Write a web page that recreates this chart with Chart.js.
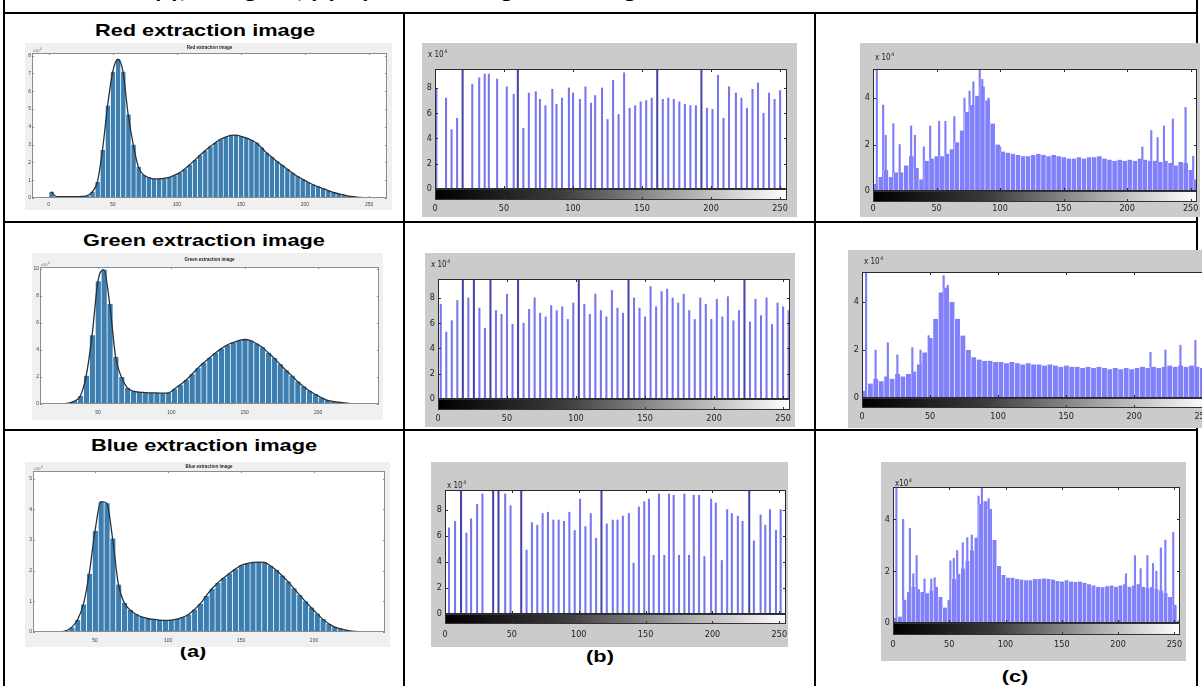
<!DOCTYPE html>
<html>
<head>
<meta charset="utf-8">
<script src="https://cdn.jsdelivr.net/npm/chart.js@4.4.0/dist/chart.umd.min.js"></script>
<style>
html, body { margin: 0; padding: 0; background: #fff; }
body { width: 1202px; height: 686px; position: relative; overflow: hidden; font-family: "Liberation Sans", Arial, sans-serif; }
.ln { position: absolute; background: #000; }
.fig { position: absolute; }
.fig canvas { display: block; }
.figA { background: #f0f0f0; }
.figB { background: #cbcbcb; }
.cap { position: absolute; font-weight: bold; font-size: 17px; line-height: 20px; white-space: nowrap; color: #000;
       transform: translateX(-50%) scaleX(1.28); transform-origin: center; }
.head { position: absolute; font-weight: bold; font-size: 17px; line-height: 20px; white-space: nowrap;
        transform: scaleX(1.28); transform-origin: left; }
</style>
</head>
<body>

<div class="head" style="left:153px; top:-17px;">(a), histogram, (b) equalized histogram of image</div>

<!-- table rules -->
<div class="ln" style="left:3px; top:0; width:2px; height:686px;"></div>
<div class="ln" style="left:1196px; top:0; width:2px; height:686px;"></div>
<div class="ln" style="left:3px; top:12px; width:1195px; height:2px;"></div>
<div class="ln" style="left:3px; top:221px; width:1195px; height:2px;"></div>
<div class="ln" style="left:3px; top:429px; width:1195px; height:2px;"></div>
<div class="ln" style="left:403px; top:12px; width:2px; height:674px;"></div>
<div class="ln" style="left:814px; top:12px; width:2px; height:674px;"></div>

<div class="cap" style="left:205px; top:21px;">Red extraction image</div>
<div class="cap" style="left:204px; top:231px;">Green extraction image</div>
<div class="cap" style="left:204px; top:436px;">Blue extraction image</div>
<div class="cap" style="left:193px; top:642px;">(a)</div>
<div class="cap" style="left:600px; top:647px;">(b)</div>
<div class="cap" style="left:1015px; top:667px;">(c)</div>

<div class="fig figA" style="left:25px; top:43px;"><canvas id="aRed" width="367" height="167"></canvas></div>
<div class="fig figA" style="left:32px; top:253px;"><canvas id="aGreen" width="351" height="167"></canvas></div>
<div class="fig figA" style="left:25px; top:462px;"><canvas id="aBlue" width="365" height="185"></canvas></div>

<div class="fig figB" style="left:422px; top:43px;"><canvas id="bRed" width="375" height="174"></canvas></div>
<div class="fig figB" style="left:425px; top:253px;"><canvas id="bGreen" width="370" height="174"></canvas></div>
<div class="fig figB" style="left:431px; top:462px;"><canvas id="bBlue" width="357" height="185"></canvas></div>

<div class="fig figB" style="left:860px; top:43px;"><canvas id="cRed" width="340" height="174"></canvas></div>
<div class="fig figB" style="left:848px; top:250px;"><canvas id="cGreen" width="370" height="178"></canvas></div>
<div class="fig figB" style="left:881px; top:462px;"><canvas id="cBlue" width="305" height="199"></canvas></div>

<script>
// ---- data ----
const binCenters = [2,6,10,14,18,22,26,30,34,38,42,46,50,54,58,62,66,70,74,78,82,86,90,94,98,102,106,110,114,118,122,126,130,134,138,142,146,150,154,158,162,166,170,174,178,182,186,190,194,198,202,206,210,214,218,222,226,230,234,238,242,246,250,254];

// column (a): channel histograms
const histRed = [0.35,0.08,0.07,0.07,0.07,0.08,0.09,0.13,0.35,0.9, 2.7,5.2,7.1,7.8,7.1,4.7,3.0,1.75,1.3,1.15, 1.07,1.08,1.1,1.16,1.28,1.41,1.62,1.87,2.13,2.4, 2.66,2.9,3.1,3.3,3.42,3.52,3.53,3.47,3.38,3.26, 3.1,2.84,2.54,2.3,2.06,1.85,1.63,1.42,1.22,1.06, 0.9,0.76,0.64,0.53,0.42,0.32,0.24,0.17,0.11,0.07, 0.04,0.01,0,0];
const histGreen = [0,0,0,0,0,0,0.01,0.06,0.22,0.6, 2.1,5.1,9.1,9.95,7.4,3.5,2.0,1.2,0.95,0.88, 0.85,0.83,0.82,0.8,0.82,1.1,1.43,1.77,2.2,2.65, 3.05,3.42,3.78,4.1,4.37,4.55,4.7,4.78,4.7,4.47, 4.2,3.8,3.4,2.95,2.5,2.1,1.66,1.3,0.98,0.72, 0.48,0.29,0.2,0.13,0.08,0.03,0.01,0,0,0, 0,0,0,0];
const histBlue = [0,0,0,0,0,0,0.01,0.04,0.15,0.4, 0.9,1.9,3.3,4.25,4.2,3.05,1.55,0.95,0.72,0.58, 0.49,0.44,0.41,0.39,0.38,0.39,0.42,0.48,0.57,0.73, 0.92,1.17,1.41,1.6,1.76,1.91,2.05,2.17,2.23,2.27, 2.28,2.27,2.16,2.02,1.84,1.65,1.43,1.21,1.0,0.8, 0.6,0.42,0.27,0.17,0.11,0.06,0.03,0.01,0,0, 0,0,0,0];
const xTicksRedA = [0,50,100,150,200,250];
const xTicksGreenA = [50,100,150,200];
const xTicksBlueA = [50,100,150,200];
const yTicksRedA = [0,1,2,3,4,5,6,7,8];
const yTicksGreenA = [0,2,4,6,8,10];
const yTicksBlueA = [0,1,2,3,4,5];

// column (b): equalized histograms (x 10^4)
const stemRedX = [1,8,12,16,20,27,32,36,39,45,52,57,60,64,68,73,76,80,85,88,92,97,100,105,109,113,116,121,125,129,133,137,141,145,149,153,157,161,165,169,173,177,181,185,189,193,197,201,205,209,213,218,222,226,230,234,238,242,246,250];
const stemRedY = [7.9,7.2,4.7,5.6,12,8.3,8.8,9.1,9.1,8.7,8.1,7.5,12,4.8,7.6,7.7,7.1,6.6,7.9,6.7,7.2,8.0,7.6,7.1,8.1,6.8,7.4,8.0,5.5,8.6,5.9,9.2,6.4,6.6,6.9,7.0,7.2,12,7.1,7.2,7.1,6.9,6.7,6.6,6.6,12,6.4,6.3,9.0,5.6,8.1,7.6,7.2,6.4,7.9,8.4,6.0,7.6,7.1,7.8];
const stemGreenX = binCenters;
const stemGreenY = [7.5,5.3,6.2,7.8,12,8.0,12,7.2,5.6,12, 7.0,6.7,8.3,5.9,12,6.0,7.1,8.0,6.8,6.5, 7.4,7.0,7.3,6.3,7.6,12,7.5,6.7,8.3,7.0, 6.5,8.6,7.2,6.8,12,8.0,7.2,6.5,8.9,7.3, 8.5,8.7,8.0,7.6,8.3,7.0,6.3,8.0,7.5,6.3, 7.9,6.5,8.1,6.2,7.0,12,6.1,7.9,6.6,8.0, 5.9,7.6,7.3,7.0];
const stemBlueX = [3,7.5,12,16,19.5,24,28,36,40,45,49,57,61,65,69,73,77,81,85,89,93,97,101,105,109,113,117,121,125.5,129,133,137.5,141,145,149,152.5,156,160,164,167.5,171,175,179,182.5,186,190,194,199,202.5,207,211,214.5,219,222.5,227.5,231,236,239.5,243,247.5,251];
const stemBlueY = [6.6,7.1,12,6.2,7.3,8.4,9.2,12,12,9.2,8.3,12,4.9,7.0,6.8,7.7,7.8,7.2,7.2,7.1,7.8,6.4,8.8,6.7,7.7,5.8,12,6.9,7.2,7.2,7.5,7.7,3.9,8.2,8.6,8.8,4.5,9.2,4.5,9.2,9.1,4.5,9.2,4.5,9.1,9.1,4.4,8.8,8.5,4.1,8.0,7.7,7.5,7.1,12,5.6,7.6,6.8,8.0,6.4,8.0];
const xTicksB = [0,50,100,150,200,250];
const yTicksB = [0,2,4,6,8];

// column (c): proposed method histograms (x 10^4)
const baseRedC = [0.3,0.6,0.9,0.6,0.8,0.8,1.1,1.5,1.0,0.5, 1.3,1.4,1.5,1.5,1.6,1.8,2.1,2.6,3.4,3.7, 4.1,4.5,3.9,2.9,2.0,1.7,1.65,1.6,1.55,1.5, 1.5,1.55,1.6,1.55,1.5,1.55,1.5,1.45,1.4,1.4, 1.45,1.4,1.45,1.45,1.5,1.4,1.35,1.3,1.35,1.3, 1.35,1.3,1.4,1.35,1.3,1.3,1.25,1.3,1.2,1.1, 1.25,1.2,0.9,0.5];
const spikeRedX = [3,8,10,16,21,30,33,40,45,52,57,64,72,76,79,84,86,91,100,212,219,224,229,236,246,252];
const spikeRedY = [5.4,3.7,2.4,2.9,2.0,2.8,2.4,1.9,2.8,3.0,3.0,3.2,4.0,4.3,4.7,5.4,4.8,4.0,1.9,1.9,2.6,2.3,2.8,3.1,3.6,1.5];
const baseGreenC = [0.3,0.6,0.8,0.7,0.9,0.8,1.0,0.9,1.0,1.1, 1.4,1.9,2.5,3.3,4.4,4.6,4.0,3.3,2.6,2.0, 1.7,1.6,1.55,1.55,1.5,1.5,1.45,1.5,1.45,1.4, 1.45,1.4,1.4,1.35,1.4,1.35,1.3,1.35,1.3,1.3, 1.25,1.3,1.25,1.3,1.25,1.2,1.25,1.2,1.25,1.2, 1.25,1.3,1.25,1.3,1.25,1.3,1.35,1.3,1.35,1.3, 1.35,1.3,1.25,1.0];
const spikeGreenX = [3,10,19,26,37,43,49,60,63,212,223,234,245];
const spikeGreenY = [5.4,2.0,2.3,1.8,2.1,2.0,2.6,5.1,4.7,1.9,2.0,2.2,2.4];
const baseBlueC = [0.2,0.25,0.9,1.2,1.4,1.3,1.2,1.15,1.25,1.4, 1.0,0.6,0.9,1.7,1.9,2.1,2.4,2.8,3.3,4.6, 4.7,4.4,3.2,2.2,1.85,1.75,1.75,1.7,1.68,1.65, 1.65,1.7,1.7,1.72,1.7,1.68,1.62,1.6,1.65,1.6, 1.58,1.6,1.55,1.5,1.45,1.4,1.38,1.42,1.45,1.4, 1.45,1.5,1.4,1.45,1.5,1.4,1.35,1.4,1.3,1.25, 1.15,1.0,0.7,0.1];
const spikeBlueX = [3,9,15,18,21,28,34,37,51,54,57,62,66,70,76,79,85,207,215,220,226,231,234,238,242,249];
const spikeBlueY = [5.4,4.0,3.65,1.9,2.6,1.7,1.7,1.75,2.4,2.5,2.8,3.1,3.3,3.4,4.9,5.3,4.8,1.9,2.6,2.1,2.6,2.3,2.0,2.9,3.2,3.5];
const xTicksC = [0,50,100,150,200,250];
const yTicksC = [0,2,4];

// ---- drawing ----
const FONT = "'Liberation Sans', Arial, sans-serif";
const FONT_NARROW = "'Liberation Sans Narrow', 'DejaVu Sans Condensed', 'Liberation Sans', sans-serif";

const pts = (xs, ys) => xs.map((x, i) => ({ x: x, y: ys[i] }));

function decor(o) {
    return {
        id: 'decor',
        beforeDatasetsDraw(chart) {
            const { ctx, chartArea: a } = chart;
            ctx.save();
            ctx.fillStyle = '#fff';
            ctx.fillRect(a.left, a.top, a.right - a.left, a.bottom - a.top);
            ctx.restore();
        },
        afterDatasetsDraw(chart) {
            const { ctx, chartArea: a, scales } = chart;
            ctx.save();
            ctx.strokeStyle = o.frameColor;
            ctx.lineWidth = 1;
            ctx.strokeRect(a.left + 0.5, a.top + 0.5, a.right - a.left - 1, a.bottom - a.top - 1);
            const tl = o.tickLen;
            ctx.beginPath();
            scales.x.ticks.forEach(t => {
                const px = Math.round(scales.x.getPixelForValue(t.value)) + 0.5;
                ctx.moveTo(px, a.bottom); ctx.lineTo(px, a.bottom - tl);
                ctx.moveTo(px, a.top); ctx.lineTo(px, a.top + tl);
            });
            scales.y.ticks.forEach(t => {
                const py = Math.round(scales.y.getPixelForValue(t.value)) + 0.5;
                ctx.moveTo(a.left, py); ctx.lineTo(a.left + tl, py);
                ctx.moveTo(a.right, py); ctx.lineTo(a.right - tl, py);
            });
            ctx.stroke();

            if (o.barH) {
                // grey-level strip under the axis
                const x0 = scales.x.getPixelForValue(0), x1 = scales.x.getPixelForValue(255);
                const g = ctx.createLinearGradient(x0, 0, x1, 0);
                g.addColorStop(0, '#000');
                g.addColorStop(0.35, '#3a3a3a');
                g.addColorStop(0.7, '#a8a8a8');
                g.addColorStop(1, '#fff');
                ctx.fillStyle = g;
                ctx.fillRect(a.left, a.bottom, a.right - a.left, o.barH);
                ctx.strokeStyle = '#333';
                ctx.strokeRect(a.left + 0.5, a.bottom + 0.5, a.right - a.left - 1, o.barH - 1);
                ctx.beginPath();
                scales.x.ticks.forEach(t => {
                    const px = Math.round(scales.x.getPixelForValue(t.value)) + 0.5;
                    ctx.moveTo(px, a.bottom + o.barH); ctx.lineTo(px, a.bottom + o.barH - 3);
                });
                ctx.stroke();
            }
            ctx.restore();
        },
        afterDraw(chart) {
            const { ctx, chartArea: a } = chart;
            (o.notes || []).forEach(n => {
                ctx.save();
                ctx.font = (n.bold ? 'bold ' : '') + n.size + 'px ' + n.family;
                ctx.fillStyle = n.color || '#222';
                ctx.textAlign = n.center ? 'center' : 'left';
                const x = n.center ? (a.left + a.right) / 2 : a.left + n.dx;
                const y = a.top + n.dy;
                ctx.fillText(n.text, x, y);
                if (n.sup) {
                    const w = ctx.measureText(n.text).width;
                    ctx.font = Math.max(3, Math.round(n.size * 0.65)) + 'px ' + n.family;
                    ctx.fillText(n.sup, x + w + 0.5, y - n.size * 0.45);
                }
                ctx.restore();
            });
        }
    };
}

function makeChart(id, o) {
    const tickFont = { family: o.family, size: o.fs };
    return new Chart(document.getElementById(id), {
        type: 'bar',
        data: { datasets: o.datasets },
        options: {
            responsive: false,
            animation: false,
            events: [],
            layout: { padding: o.pad },
            plugins: { legend: { display: false }, tooltip: { enabled: false } },
            scales: {
                x: {
                    type: 'linear', min: o.xmin, max: o.xmax, offset: false,
                    grid: { display: false, offset: false, drawTicks: false, tickLength: 0 }, border: { display: false },
                    ticks: { font: tickFont, color: o.tickColor, padding: o.xpad, autoSkip: false, maxRotation: 0, minRotation: 0 },
                    afterBuildTicks: s => { s.ticks = o.xTicks.map(v => ({ value: v })); },
                    afterFit: s => { s.height = o.xh; s.paddingLeft = 0; s.paddingRight = 0; }
                },
                x2: { type: 'linear', min: o.xmin, max: o.xmax, offset: false, display: false },
                y: {
                    min: 0, max: o.ymax,
                    grid: { display: false, drawTicks: false, tickLength: 0 }, border: { display: false },
                    ticks: { font: tickFont, color: o.tickColor, padding: o.ypad },
                    afterBuildTicks: s => { s.ticks = o.yTicks.map(v => ({ value: v })); },
                    afterFit: s => { s.width = o.yw; s.paddingTop = 0; s.paddingBottom = 0; }
                }
            }
        },
        plugins: [decor(o)]
    });
}

// column (a)
function panelA(id, vals, box) {
    makeChart(id, Object.assign({
        family: FONT, fs: 5, tickColor: '#444', ypad: 1,
        frameColor: '#8c8c8c', tickLen: 2,
        datasets: [
            { type: 'line', data: pts(binCenters, vals), borderColor: '#26313b', borderWidth: 1.3,
              pointRadius: 0, cubicInterpolationMode: 'monotone', clip: 0, order: 0 },
            { type: 'bar', data: pts(binCenters, vals), backgroundColor: 'rgb(60,126,176)',
              borderColor: 'rgba(255,255,255,0.35)', borderWidth: { left: 1, right: 0, top: 0, bottom: 0 },
              barPercentage: 1, categoryPercentage: 1, grouped: false, clip: 0, order: 1 }
        ]
    }, box));
}

panelA('aRed', histRed, {
    pad: { left: 0, top: 10, right: 5, bottom: 0 }, yw: 7, xh: 12, xpad: 4,
    xmin: -13, xmax: 264, ymax: 8.15, xTicks: xTicksRedA, yTicks: yTicksRedA,
    notes: [{ text: 'Red extraction image', center: true, dy: -4, size: 4.5, bold: true, family: FONT },
            { text: 'x10', sup: '4', dx: 1, dy: -1, size: 4, family: FONT, color: '#666' }]
});
panelA('aGreen', histGreen, {
    pad: { left: 0, top: 14, right: 4, bottom: 0 }, yw: 8, xh: 16, xpad: 6,
    xmin: 10.5, xmax: 241.5, ymax: 10.15, xTicks: xTicksGreenA, yTicks: yTicksGreenA,
    notes: [{ text: 'Green extraction image', center: true, dy: -6, size: 4.5, bold: true, family: FONT },
            { text: 'x10', sup: '4', dx: 1, dy: -1, size: 4, family: FONT, color: '#666' }]
});
panelA('aBlue', histBlue, {
    pad: { left: 0, top: 9, right: 5, bottom: 0 }, yw: 8, xh: 15, xpad: 6,
    xmin: 7.5, xmax: 248.6, ymax: 5.25, xTicks: xTicksBlueA, yTicks: yTicksBlueA,
    notes: [{ text: 'Blue extraction image', center: true, dy: -3, size: 4.5, bold: true, family: FONT },
            { text: 'x10', sup: '4', dx: 1, dy: -1, size: 4, family: FONT, color: '#666' }]
});

// column (b)
function panelB(id, xs, ys, box) {
    makeChart(id, Object.assign({
        family: FONT_NARROW, fs: 9, tickColor: '#222', ypad: 3,
        frameColor: '#2a2a2a', tickLen: 3,
        xmin: 0, xmax: 255, ymax: 9.5, xTicks: xTicksB, yTicks: yTicksB,
        datasets: [
            { type: 'bar', data: pts(xs, ys), barThickness: 1.4, grouped: false, clip: 0,
              backgroundColor: c => (c.raw && c.raw.y > 9.5) ? 'rgb(70,70,170)' : 'rgb(118,118,240)' }
        ]
    }, box));
}

panelB('bRed', stemRedX, stemRedY, {
    pad: { left: 0, top: 26, right: 10, bottom: 0 }, yw: 13, xh: 28, xpad: 14, barH: 11,
    notes: [{ text: 'x 10', sup: '4', dx: -7, dy: -12, size: 8, family: FONT_NARROW, color: '#222' }]
});
panelB('bGreen', stemGreenX, stemGreenY, {
    pad: { left: 0, top: 26, right: 5, bottom: 0 }, yw: 13, xh: 28, xpad: 14, barH: 11,
    notes: [{ text: 'x 10', sup: '4', dx: -7, dy: -12, size: 8, family: FONT_NARROW, color: '#222' }]
});
panelB('bBlue', stemBlueX, stemBlueY, {
    pad: { left: 0, top: 28, right: 2, bottom: 0 }, yw: 14, xh: 33, xpad: 15, barH: 10,
    notes: [{ text: 'x 10', sup: '4', dx: 2, dy: -2, size: 8, family: FONT_NARROW, color: '#222' }]
});

// column (c)
function panelC(id, base, sx, sy, box) {
    makeChart(id, Object.assign({
        family: FONT_NARROW, fs: 9, tickColor: '#222', ypad: 3,
        frameColor: '#2a2a2a', tickLen: 3,
        xmin: 0, xmax: 255, ymax: 5.25, xTicks: xTicksC, yTicks: yTicksC,
        datasets: [
            { type: 'bar', data: pts(binCenters, base), backgroundColor: 'rgb(128,128,250)',
              borderColor: 'rgba(255,255,255,0.55)', borderWidth: { left: 0.8, right: 0, top: 0, bottom: 0 },
              barPercentage: 1, categoryPercentage: 1, grouped: false, clip: 0 },
            { type: 'bar', xAxisID: 'x2', data: pts(sx, sy), backgroundColor: 'rgb(128,128,250)',
              barThickness: 1.5, grouped: false, clip: 0 }
        ]
    }, box));
}

panelC('cRed', baseRedC, spikeRedX, spikeRedY, {
    pad: { left: 0, top: 26, right: 3, bottom: 0 }, yw: 13, xh: 26, xpad: 12, barH: 11,
    notes: [{ text: 'x 10', sup: '4', dx: 2, dy: -9, size: 8, family: FONT_NARROW, color: '#222' }]
});
panelC('cGreen', baseGreenC, spikeGreenX, spikeGreenY, {
    pad: { left: 0, top: 22, right: 9, bottom: 0 }, yw: 14, xh: 30, xpad: 13, barH: 10,
    notes: [{ text: 'x 10', sup: '4', dx: 2, dy: -8, size: 8, family: FONT_NARROW, color: '#222' }]
});
panelC('cBlue', baseBlueC, spikeBlueX, spikeBlueY, {
    pad: { left: 0, top: 25, right: 6, bottom: 0 }, yw: 12, xh: 38, xpad: 16, barH: 12,
    notes: [{ text: 'x10', sup: '4', dx: 2, dy: -1, size: 8, family: FONT_NARROW, color: '#222' }]
});
</script>
</body>
</html>
